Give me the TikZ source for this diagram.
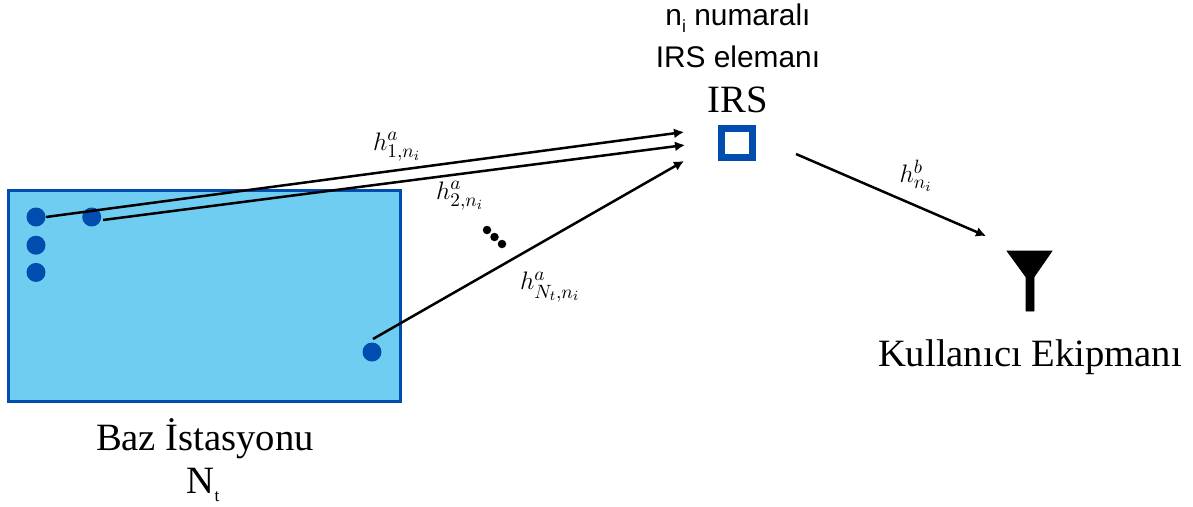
\documentclass[tikz,border=0pt]{standalone}
\usepackage{amsmath,amssymb,amsfonts}
\usepackage{fontspec}
\setmainfont{Liberation Serif}
\setsansfont{Liberation Sans}
\usepackage{xcolor}
\usepackage{tikz}
\usetikzlibrary{arrows.meta,positioning}

\definecolor{bsfill}{RGB}{110,205,240}
\definecolor{bsblue}{RGB}{0,77,175}
\newcommand{\tinysub}[1]{\raisebox{-0.22em}{\fontsize{10}{12}\selectfont #1}}

\begin{document}
\begin{tikzpicture}[
  node distance=0.2cm,
  every node/.style={align=center},
  station/.style={draw=bsblue, line width=0.06cm, fill=bsfill, minimum width=7.84cm,
                  minimum height=4.22cm, inner sep=0pt},
  ant/.style={circle, fill=bsblue, minimum size=0.38cm, inner sep=0pt},
  dot/.style={circle, fill=black, minimum size=0.17cm, inner sep=0pt},
  irsbox/.style={draw=bsblue, line width=0.14cm, line join=miter, fill=white,
                 minimum width=0.62cm, minimum height=0.58cm, inner sep=0pt},
  title/.style={font=\fontsize{22}{26}\selectfont, inner sep=0pt},
  caption/.style={font=\sffamily\fontsize{17}{20}\selectfont, inner sep=0pt},
  chan/.style={font=\fontsize{15.5}{19}\selectfont, inner sep=0pt},
  line/.style={-{Latex[length=0.2cm,width=0.2cm]}, line width=0.05cm}
]
\useasboundingbox (0,0) rectangle (23.86,10.12);

% base station
\node[station] (bs) at (4.08,4.21) {};
\node[ant] (a1) at (0.72,5.78) {};
\node[ant, below=0.17cm of a1] (a2) {};
\node[ant, below=0.15cm of a2] (a3) {};
\node[ant, right=0.72cm of a1] (a4) {};
\node[ant] (a5) at (7.44,3.08) {};
\node[title] (bsname) at (4.1,1.34) {Baz İstasyonu};
\node[title] (bsnum) at (4.06,0.42) {N\tinysub{t}};

% irs
\node[irsbox] (irs) at (14.74,7.26) {};
\node[title] (irsname) at (14.76,8.12) {IRS};
\node[caption] (irsel) at (14.76,8.98) {IRS elemanı};
\node[caption] (irsnum) at (14.76,9.76) {n\tinysub{i} numaralı};

% user
\node[title] (ue) at (20.6,2.98) {Kullanıcı Ekipmanı};
\filldraw[black] (20.14,5.1) -- (21.04,5.1) -- (20.68,4.58) -- (20.68,3.9)
  -- (20.52,3.9) -- (20.52,4.58) -- cycle;

% arrow ends
\coordinate (s1) at (0.92,5.78);
\coordinate (s2) at (2.06,5.72);
\coordinate (s3) at (7.46,3.34);
\coordinate (s4) at (15.92,7.04);
\coordinate (t1) at (13.68,7.48);
\coordinate (t2) at (13.7,7.22);
\coordinate (t3) at (13.68,6.9);
\coordinate (t4) at (19.72,5.4);

\draw[line] (s1) -- (t1);
\draw[line] (s2) -- (t2);
\draw[line] (s3) -- (t3);
\draw[line] (s4) -- (t4);

\node[chan] (h1) at (7.94,7.18) {$h^{a}_{1,n_i}$};
\node[chan] (h2) at (9.2,6.2) {$h^{a}_{2,n_i}$};
\node[chan] (hn) at (11.0,4.38) {$h^{a}_{N_t,n_i}$};
\node[chan] (hb) at (18.32,6.6) {$h^{b}_{n_i}$};

\node[dot] (d1) at (9.74,5.52) {};
\node[dot] (d2) at (9.89,5.38) {};
\node[dot] (d3) at (10.04,5.24) {};
\end{tikzpicture}
\end{document}
